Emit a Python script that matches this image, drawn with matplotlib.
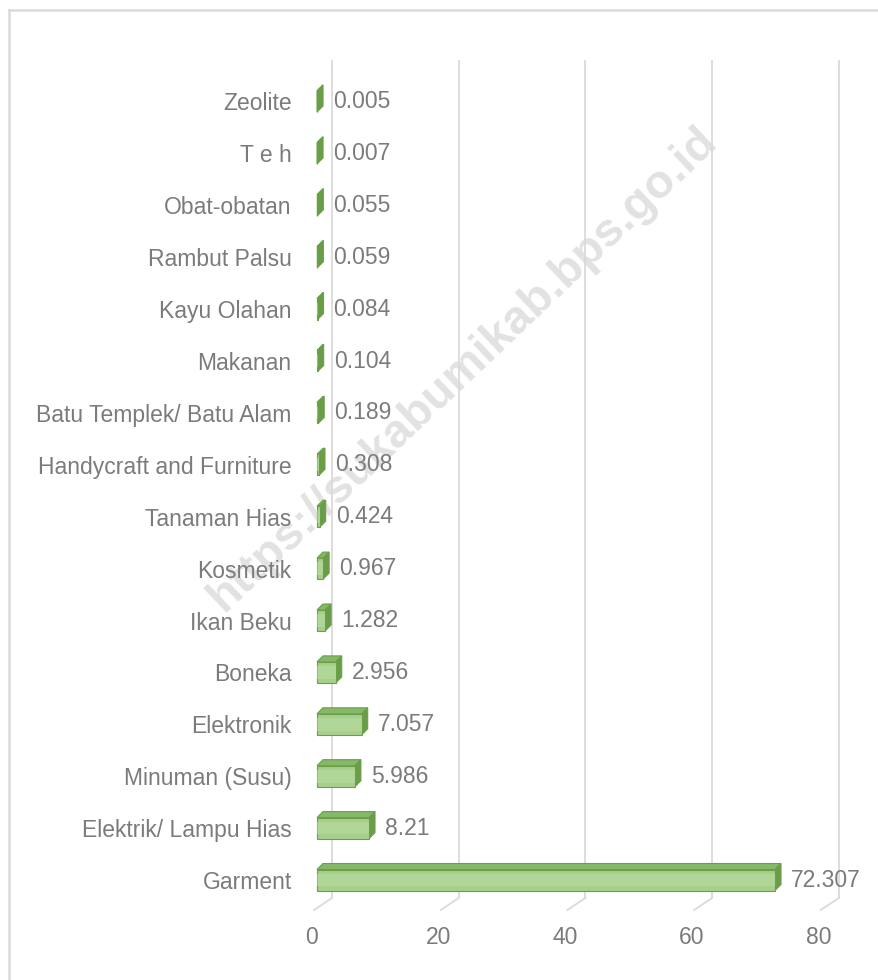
import numpy as np
import matplotlib.pyplot as plt
from matplotlib.patches import Polygon
from matplotlib.lines import Line2D

plt.rcParams['font.family'] = ['Liberation Sans', 'DejaVu Sans']

# categories from bottom (Garment) to top (Zeolite)
categories = ['Garment', 'Elektrik/ Lampu Hias', 'Minuman (Susu)', 'Elektronik',
              'Boneka', 'Ikan Beku', 'Kosmetik', 'Tanaman Hias',
              'Handycraft and Furniture', 'Batu Templek/ Batu Alam', 'Makanan',
              'Kayu Olahan', 'Rambut Palsu', 'Obat-obatan', 'T e h', 'Zeolite']
values = [72.307, 8.21, 5.986, 7.057, 2.956, 1.282, 0.967, 0.424,
          0.308, 0.189, 0.104, 0.084, 0.059, 0.055, 0.007, 0.005]
xticks = [0, 20, 40, 60, 80]

W, H = 879, 980
fig = plt.figure(figsize=(W / 100, H / 100), dpi=100)
fig.patch.set_facecolor('white')

# pixel scale of the plot: value 0 at x=317px, 6.334 px per unit
# category i centre at y = 880 - 51.9*i (px from top)
px_x = 6.334
px_y = 51.9
ax_left, ax_right = 300, 879
ax_top, ax_bot = 40, 960
ax = fig.add_axes([ax_left / W, 1 - ax_bot / H, (ax_right - ax_left) / W, (ax_bot - ax_top) / H])
ax.set_xlim((ax_left - 317) / px_x, (ax_right - 317) / px_x)
ax.set_ylim((880 - ax_bot) / px_y, (880 - ax_top) / px_y)
ax.patch.set_visible(False)
for s in ax.spines.values():
    s.set_visible(False)

txt_col = '#7b7b7b'
grid_col = '#dadada'

# 3d depth of the back wall (data units)
wall_dx = 15 / px_x
grid_top = (880 - 60) / px_y
grid_bot = (880 - 898) / px_y
diag_dx, diag_dy = 18 / px_x, 12 / px_y
for v in xticks:
    ax.plot([v + wall_dx, v + wall_dx], [grid_bot, grid_top], color=grid_col, lw=1.3, zorder=1,
            solid_capstyle='butt')
    ax.plot([v + wall_dx, v + wall_dx - diag_dx], [grid_bot, grid_bot - diag_dy],
            color=grid_col, lw=1.3, zorder=1)
    ax.text(v - 20 / px_x + wall_dx, (880 - 937) / px_y, str(v), ha='center', va='center',
            fontsize=16.5, color=txt_col)

# watermark behind the bars
ax.text(463 / W, 1 - 369 / H, 'https://sukabumikab.bps.go.id', transform=fig.transFigure,
        rotation=43.5, rotation_mode='anchor', ha='center', va='center', fontsize=34,
        fontweight='bold', color='#e2e2e2', zorder=0.5, clip_on=False)

idx = np.arange(len(categories))
h = 21 / px_y
bdx, bdy = 6 / px_x, 6 / px_y
front_col = '#a6cf8b'
hi_col = '#b9dda2'
top_col = '#86b967'
side_col = '#6a9d49'
edge_col = '#6b9f48'

for i, v in zip(idx, values):
    yb, yt = i - h / 2, i + h / 2
    top = Polygon([(0, yt), (v, yt), (v + bdx, yt + bdy), (bdx, yt + bdy)],
                  closed=True, fc=top_col, ec=edge_col, lw=0.8, zorder=3)
    side = Polygon([(v, yb), (v, yt), (v + bdx, yt + bdy), (v + bdx, yb + bdy)],
                   closed=True, fc=side_col, ec=edge_col, lw=0.8, zorder=3)
    ax.add_patch(top)
    ax.add_patch(side)

ax.barh(idx, values, height=h, left=0, color=front_col, edgecolor=edge_col, lw=0.8, zorder=4)
ax.barh(idx, values, height=h * 0.6, left=0, color=hi_col, edgecolor='none', alpha=0.55, zorder=5)

for i, v in zip(idx, values):
    ax.text(v + 16 / px_x, i, f'{v:g}', ha='left', va='center', fontsize=16.5, color=txt_col, zorder=6)

ax.set_yticks(idx)
ax.set_yticklabels(categories, fontsize=16.5, color=txt_col)
ax.tick_params(axis='y', length=0, pad=6)
ax.set_xticks([])

# light chart border (left and top only visible)
fig.add_artist(Line2D([8.5 / W, 8.5 / W], [0, 1 - 10 / H], color=grid_col, lw=1.8))
fig.add_artist(Line2D([8.5 / W, 1], [1 - 10 / H, 1 - 10 / H], color=grid_col, lw=1.8))

plt.savefig('out.png', dpi=100)
